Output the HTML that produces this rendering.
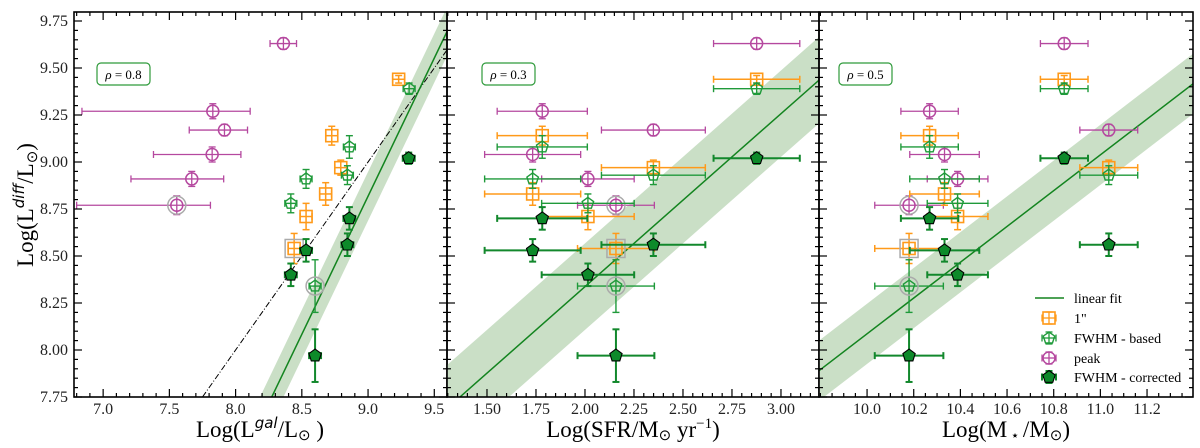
<!DOCTYPE html>
<html><head><meta charset="utf-8"><style>
html,body{margin:0;padding:0;background:#fff;width:1200px;height:448px;overflow:hidden}
svg{display:block;font-family:"Liberation Serif",serif}
</style></head><body>
<svg id="c" width="1200" height="448" viewBox="0 0 1200 448"></svg>
<script>
const galaxies=['A','B','C','D','E','F'];
const sfr=[2.876,1.782,2.349,1.733,2.015,2.158];
const sfrErr=[0.22,0.23,0.265,0.245,0.236,0.196];
const mstar=[10.845,10.268,11.036,10.332,10.388,10.18];
const mstarErr=[0.102,0.123,0.124,0.149,0.13,0.147];
const peakY=[9.63,9.27,9.17,9.04,8.91,8.77];
const peakYErr=[0.03,0.04,0.03,0.04,0.04,0.05];
const oneY=[9.44,9.14,8.97,8.83,8.71,8.54];
const oneYErr=[0.02,0.05,0.04,0.06,0.07,0.08];
const basedY=[9.39,9.08,8.93,8.91,8.78,8.34];
const basedYErr=[0.03,0.06,0.05,0.05,0.05,0.14];
const corrY=[9.02,8.70,8.56,8.53,8.40,7.97];
const corrYErr=[0.03,0.06,0.06,0.06,0.06,0.14];
const peakLgal=[8.361,7.828,7.916,7.823,7.669,7.556];
const peakLgalLo=[8.26,6.84,7.65,7.38,7.21,6.80];
const peakLgalHi=[8.46,8.11,8.09,8.04,7.91,7.81];
const oneLgal=[9.231,8.726,8.794,8.68,8.532,8.442];
const basedLgal=[9.31,8.859,8.844,8.532,8.417,8.60];
const corrLgal=[9.307,8.859,8.844,8.532,8.417,8.60];
const lgalErr=0.045;
const fitSlope=[1.469,0.920,0.952];
const fitIntercept=[-4.403,6.497,-1.434];
const fitBand=[0.13,0.23,0.16];
const rhoLabels=['0.8','0.3','0.5'];
const yTicks=[7.75,8.00,8.25,8.50,8.75,9.00,9.25,9.50,9.75];
const xTicks1=['7.0','7.5','8.0','8.5','9.0','9.5'];
const xTicks2=['1.50','1.75','2.00','2.25','2.50','2.75','3.00'];
const xTicks3=['10.0','10.2','10.4','10.6','10.8','11.0','11.2'];

const NS='http://www.w3.org/2000/svg';
const svg=document.getElementById('c');
function el(t,a,p){const e=document.createElementNS(NS,t);for(const k in a)e.setAttribute(k,a[k]);(p||svg).appendChild(e);return e;}
const TOP=12,BOT=397,YMIN=7.75,YMAX=7.75+385/188;
const panels=[{x0:74,x1:447,xmin:6.78,xmax:9.596,minor:0.1,ticks:xTicks1},
{x0:447,x1:819,xmin:1.296,xmax:3.194,minor:0.05,ticks:xTicks2},
{x0:819,x1:1193,xmin:9.794,xmax:11.397,minor:0.05,ticks:xTicks3}];
function Y(v){return BOT-(v-YMIN)/(YMAX-YMIN)*(BOT-TOP);}
function mkX(p){return v=>p.x0+(v-p.xmin)/(p.xmax-p.xmin)*(p.x1-p.x0);}
const C={peak:'#b5489f',one:'#ff9a1a',based:'#1f9a3a',corr:'#12882c',dark:'#0d8a2a'};

function pent(cx,cy,r){let s='';for(let i=0;i<5;i++){const a=-Math.PI/2+i*2*Math.PI/5;s+=(cx+r*Math.cos(a)).toFixed(1)+','+(cy+r*Math.sin(a)).toFixed(1)+' ';}return s;}
function errbar(g,xl,xh,x,y,yl,yh,col,w){
  el('line',{x1:xl,y1:y,x2:xh,y2:y,stroke:col,'stroke-width':w},g);
  el('line',{x1:xl,y1:y-3.5,x2:xl,y2:y+3.5,stroke:col,'stroke-width':w},g);
  el('line',{x1:xh,y1:y-3.5,x2:xh,y2:y+3.5,stroke:col,'stroke-width':w},g);
  el('line',{x1:x,y1:yl,x2:x,y2:yh,stroke:col,'stroke-width':w},g);
  el('line',{x1:x-3.5,y1:yl,x2:x+3.5,y2:yl,stroke:col,'stroke-width':w},g);
  el('line',{x1:x-3.5,y1:yh,x2:x+3.5,y2:yh,stroke:col,'stroke-width':w},g);
}
function marker(g,kind,x,y,hl){
  if(hl){el('circle',{cx:x,cy:y,r:kind==='one'?0:9,fill:'none',stroke:'#aaa','stroke-width':1.5},g);
    if(kind==='one')el('rect',{x:x-9,y:y-9,width:18,height:18,fill:'none',stroke:'#aaa','stroke-width':1.5},g);}
  if(kind==='peak')el('circle',{cx:x,cy:y,r:6,fill:'none',stroke:C.peak,'stroke-width':1.5},g);
  if(kind==='one')el('rect',{x:x-6,y:y-6,width:12,height:12,fill:'none',stroke:C.one,'stroke-width':1.6},g);
  if(kind==='based')el('polygon',{points:pent(x,y,6),fill:'none',stroke:C.based,'stroke-width':1.4},g);
  if(kind==='corr')el('polygon',{points:pent(x,y,6.5),fill:C.dark,stroke:'#000','stroke-width':1.1},g);
}
function series(g,X,kind,xs,xlo,xhi,ys,yerr,col,w){
  for(let i=0;i<galaxies.length;i++){
    const s=el('g',{},g);
    
    
    errbar(s,X(xlo[i]),X(xhi[i]),X(xs[i]),Y(ys[i]),Y(ys[i]+yerr[i]),Y(ys[i]-yerr[i]),col,w);
    marker(s,kind,X(xs[i]),Y(ys[i]),i===5&&kind!=='corr');
  }
}
const defs=el('defs',{});
panels.forEach((p,k)=>{
  const X=mkX(p);
  const cp=el('clipPath',{id:'cp'+k},defs);
  el('rect',{x:p.x0,y:TOP,width:p.x1-p.x0,height:BOT-TOP},cp);
  const g=el('g',{'clip-path':'url(#cp'+k+')'});
  
  
  const m=fitSlope[k],b=fitIntercept[k],d=fitBand[k];
  const xa=Math.max(p.xmin,(YMIN-d-b)/m),xb=Math.min(p.xmax,(YMAX+d-b)/m);
  const band=el('polygon',{points:`${X(xa)},${Y(m*xa+b+d)} ${X(xb)},${Y(m*xb+b+d)} ${X(xb)},${Y(m*xb+b-d)} ${X(xa)},${Y(m*xa+b-d)}`,fill:'#cadfc6'},g);
  
  
  if(k===0){
    const oa=Math.max(p.xmin,YMIN),ob=Math.min(p.xmax,YMAX);
    const o=el('line',{x1:X(oa),y1:Y(oa),x2:X(ob),y2:Y(ob),stroke:'#000','stroke-width':1,'stroke-dasharray':'6,2,1,2'},g);
    
    
  }
  const la=Math.max(p.xmin,(YMIN-b)/m),lb=Math.min(p.xmax,(YMAX-b)/m);
  const fl=el('line',{x1:X(la),y1:Y(m*la+b),x2:X(lb),y2:Y(m*lb+b),stroke:'#13841f','stroke-width':1.5},g);
  
  
  if(k===0){
    series(g,X,'peak',peakLgal,peakLgalLo,peakLgalHi,peakY,peakYErr,C.peak,1.3);
    series(g,X,'one',oneLgal,oneLgal.map(v=>v-lgalErr),oneLgal.map(v=>v+lgalErr),oneY,oneYErr,C.one,1.5);
    series(g,X,'based',basedLgal,basedLgal.map(v=>v-lgalErr),basedLgal.map(v=>v+lgalErr),basedY,basedYErr,C.based,1.4);
    series(g,X,'corr',corrLgal,corrLgal.map(v=>v-lgalErr),corrLgal.map(v=>v+lgalErr),corrY,corrYErr,C.corr,2);
  } else {
    const xs=k===1?sfr:mstar,er=k===1?sfrErr:mstarErr;
    const l=xs.map((v,i)=>v-er[i]),h=xs.map((v,i)=>v+er[i]);
    series(g,X,'peak',xs,l,h,peakY,peakYErr,C.peak,1.3);
    series(g,X,'one',xs,l,h,oneY,oneYErr,C.one,1.5);
    series(g,X,'based',xs,l,h,basedY,basedYErr,C.based,1.4);
    series(g,X,'corr',xs,l,h,corrY,corrYErr,C.corr,2);
  }
  const fr=el('rect',{x:p.x0,y:TOP,width:p.x1-p.x0,height:BOT-TOP,fill:'none',stroke:'#000','stroke-width':1.6});
  
  
  const tg=el('g',{stroke:'#000','stroke-width':1.2});
  
  
  for(let v=Math.ceil(p.xmin/p.minor-1e-6)*p.minor;v<=p.xmax;v+=p.minor){
    const isMaj=p.ticks.some(t=>Math.abs(+t-v)<1e-6);const L=isMaj?8:4;const x=X(v);
    el('line',{x1:x,y1:BOT,x2:x,y2:BOT-L},tg);el('line',{x1:x,y1:TOP,x2:x,y2:TOP+L},tg);
  }
  for(let v=7.75;v<=YMAX;v+=0.05){
    const isMaj=yTicks.some(t=>Math.abs(t-v)<1e-6);const L=isMaj?8:4;const y=Y(v);
    el('line',{x1:p.x0,y1:y,x2:p.x0+L,y2:y},tg);el('line',{x1:p.x1,y1:y,x2:p.x1-L,y2:y},tg);
  }
  p.ticks.forEach(t=>{
    const tx=el('text',{x:X(+t),y:414,'text-anchor':'middle','font-size':16,fill:'#222'});
    tx.textContent=t;
    
    
  });
  const bx=[97,482,839][k];
  const rb=el('g',{});
  
  
  el('rect',{x:bx,y:63,width:53,height:22,rx:4,fill:'#fff',stroke:'#2e9a3a','stroke-width':1.2},rb);
  const rt=el('text',{x:bx+26.5,y:79,'text-anchor':'middle','font-size':13},rb);
  rt.innerHTML='<tspan font-style="italic">ρ</tspan> = '+rhoLabels[k];
});
yTicks.forEach(t=>{
  const tx=el('text',{x:68,y:Y(t)+5,'text-anchor':'end','font-size':16,fill:'#222'});
  tx.textContent=t.toFixed(2);
  
  
});
const yt=el('text',{x:0,y:0,'font-size':23,'text-anchor':'middle',transform:'translate(33,205) rotate(-90)'});
yt.innerHTML='Log(L<tspan font-family="DejaVu Sans,sans-serif" font-style="italic" font-size="15" dy="-9">diff</tspan><tspan dy="9">/L</tspan><tspan font-size="15" dy="4">⊙</tspan><tspan dy="-4">)</tspan>';


const xt=[['Log(L<tspan font-family="DejaVu Sans,sans-serif" font-style="italic" font-size="15" dy="-9">gal</tspan><tspan dy="9">/L</tspan><tspan font-size="15" dy="3">⊙</tspan><tspan dy="-3"> )</tspan>',260],
['Log(SFR/M<tspan font-size="15" dy="3">⊙</tspan><tspan dy="-3"> yr</tspan><tspan font-size="15" dy="-9">−1</tspan><tspan dy="9">)</tspan>',633],
['Log(M<tspan font-size="14" dy="3"> ⋆ </tspan><tspan dy="-3">/M</tspan><tspan font-size="15" dy="3">⊙</tspan><tspan dy="-3">)</tspan>',1006]];
xt.forEach((a,i)=>{const t=el('text',{x:a[1],y:437,'font-size':23,'text-anchor':'middle'});t.innerHTML=a[0];
  
  });
const lg=el('g',{});


el('line',{x1:1035,y1:298,x2:1064,y2:298,stroke:'#13841f','stroke-width':1.5},lg);
const items=[['linear fit',null,298],[' 1"','one',318],['FWHM - based','based',338],['peak','peak',358],['FWHM - corrected','corr',377]];
items.forEach(it=>{
  const e=el('g',{},lg);
  
  
  if(it[1]){const col=C[it[1]];errbar(e,1042,1056,1049,it[2],it[2]-6,it[2]+6,col,it[1]==='corr'?2:1.3);marker(e,it[1],1049,it[2],false);}
  const t=el('text',{x:1074,y:it[2]+5,'font-size':14},e);t.textContent=it[0];
});
</script>
</body></html>
